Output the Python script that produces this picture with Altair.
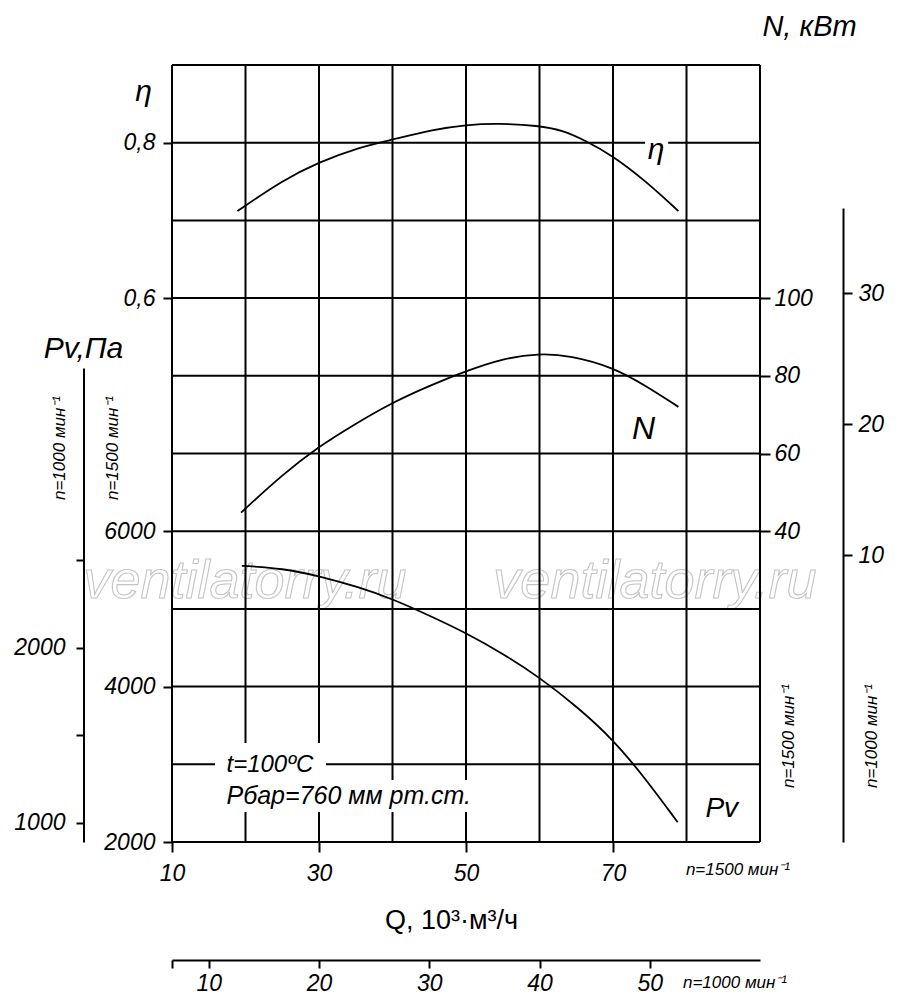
import altair as alt
import pandas as pd

# ---------------- values (n = 1500 мин⁻¹) ----------------
q_eta = [18.9, 25.1, 30.0, 35.4, 40.0, 45.6, 50.0, 54.4, 59.9, 63.1, 66.2, 70.0, 74.4, 78.9]
eta = [0.712, 0.752, 0.775, 0.794, 0.804, 0.817, 0.823, 0.825, 0.822, 0.816, 0.803, 0.783, 0.751, 0.712]

q_n = [19.4, 25.1, 30.0, 34.3, 40.0, 45.6, 50.0, 54.9, 59.9, 64.2, 70.0, 74.4, 78.9]
n_kw = [44.8, 54.7, 61.8, 66.9, 73.2, 77.9, 81.2, 84.4, 85.8, 85.2, 82.2, 77.5, 72.0]

q_pv = [19.5, 25.1, 30.0, 35.4, 40.0, 45.6, 50.0, 54.9, 59.9, 65.2, 70.0, 74.4, 78.8]
pv = [5555, 5521, 5424, 5281, 5129, 4888, 4690, 4431, 4127, 3734, 3320, 2819, 2254]

# grid and tick values
q_grid = [10, 20, 30, 40, 50, 60, 70, 80, 90]
pv_grid = [2000, 3000, 4000, 5000, 6000, 7000, 8000, 9000, 10000, 11000, 12000]
q_ticks = [10, 30, 50, 70]
eta_ticks = [0.6, 0.8]
pv_ticks = [2000, 4000, 6000]
n_ticks = [40, 60, 80, 100]
n1000_ticks = [10, 20, 30]
pv1000_ticks = [1000, 1500, 2000, 2500]
q1000_ticks = [20 / 3, 10, 20, 30, 40, 50]

# ---------------- layout ----------------
W, H = 588, 777
FONT = "Liberation Sans"
RQ = 1000 / 1500
RP = RQ ** 2
RN = RQ ** 3

Q_DOM = [10, 90]
PV_DOM = [2000, 12000]
ETA_DOM = [-0.1, 0.9]
N_DOM = [-40, 160]
N1000_TOP = 143
PV1000_TOP = 303


def val_at(dom, px):
    return dom[0] + (H - px) / H * (dom[1] - dom[0])


N1000_DOM = [N_DOM[0] * RN, val_at(N_DOM, N1000_TOP) * RN]
PV1000_DOM = [PV_DOM[0] * RP, val_at(PV_DOM, PV1000_TOP) * RP]
Q1000_DOM = [Q_DOM[0] * RQ, Q_DOM[1] * RQ]

XS = alt.Scale(domain=Q_DOM, nice=False, zero=False)
PVS = alt.Scale(domain=PV_DOM, nice=False, zero=False)
ETAS = alt.Scale(domain=ETA_DOM, nice=False, zero=False)
NS = alt.Scale(domain=N_DOM, nice=False, zero=False)

AX = dict(labelFont=FONT, labelFontSize=23, labelFontStyle="italic", labelColor="black",
          tickColor="black", tickWidth=2, grid=False, labelFlush=False, labelOverlap=False,
          titleFont=FONT, titleColor="black", titleFontWeight="normal", titleAngle=0)

ONE = pd.DataFrame({"k": [0]})


def label(text, q, p, size, align="center", baseline="alphabetic", angle=0, italic=True):
    return alt.Chart(ONE).mark_text(
        font=FONT, fontSize=size, fontStyle="italic" if italic else "normal",
        align=align, baseline=baseline, angle=angle, color="black"
    ).encode(
        x=alt.XDatum(q, scale=XS, axis=None),
        y=alt.YDatum(p, scale=PVS, axis=None),
        text=alt.value(text),
    )


def watermark(q, p):
    return alt.Chart(ONE).mark_text(
        font=FONT, fontSize=54, fontStyle="italic", align="center", baseline="alphabetic",
        fill="white", fillOpacity=0, stroke="#c4c4c4", strokeWidth=1.1
    ).encode(
        x=alt.XDatum(q, scale=XS, axis=None),
        y=alt.YDatum(p, scale=PVS, axis=None),
        text=alt.value("ventilatorry.ru"),
    )


vgrid = alt.Chart(pd.DataFrame({"q": q_grid})).mark_rule(color="black", strokeWidth=2).encode(
    x=alt.X("q:Q", scale=XS, axis=None))
hgrid = alt.Chart(pd.DataFrame({"pv": pv_grid})).mark_rule(color="black", strokeWidth=2).encode(
    y=alt.Y("pv:Q", scale=PVS, axis=None))

# white masks where the drawing interrupts grid lines behind labels
mask = alt.Chart(pd.DataFrame({
    "q0": [15.85, 16.26, 74.35], "q1": [30.95, 52.0, 77.5],
    "p0": [2386, 2386, 10930], "p1": [3274, 2798, 11070]})).mark_rect(color="white").encode(
    x=alt.X("q0:Q", scale=XS, axis=None), x2="q1",
    y=alt.Y("p0:Q", scale=PVS, axis=None), y2="p1")

CURVE = dict(color="black", strokeWidth=1.8, interpolate="basis")

eta_line = alt.Chart(pd.DataFrame({"q": q_eta, "eta": eta})).mark_line(**CURVE).encode(
    x=alt.X("q:Q", scale=XS, axis=None),
    y=alt.Y("eta:Q", scale=ETAS, axis=alt.Axis(
        orient="left", values=eta_ticks, tickSize=9, domain=False, labelPadding=8,
        labelExpr="replace(format(datum.value, '.1f'), '.', ',')",
        title="η", titleFontSize=30, titleFontStyle="italic", titleX=-29, titleY=35,
        titleAlign="center", titleBaseline="alphabetic", **AX)))

pv_line = alt.Chart(pd.DataFrame({"q": q_pv, "pv": pv})).mark_line(**CURVE).encode(
    x=alt.X("q:Q", scale=XS, axis=alt.Axis(
        orient="bottom", values=q_ticks, format="d", tickSize=10, domain=False, labelPadding=10,
        title="Q, 10³·м³/ч", titleFontSize=27, titleFontStyle="normal", titleX=279, titleY=78,
        titleAlign="center", titleBaseline="middle", **AX)),
    y=alt.Y("pv:Q", scale=PVS, axis=alt.Axis(
        orient="left", values=pv_ticks, format="d", tickSize=9, domain=False, labelPadding=8,
        title="Pv,Па", titleFontSize=30, titleFontStyle="italic", titleX=-89, titleY=292,
        titleAlign="center", titleBaseline="alphabetic", **AX)))

n_line = alt.Chart(pd.DataFrame({"q": q_n, "n": n_kw})).mark_line(**CURVE).encode(
    x=alt.X("q:Q", scale=XS, axis=None),
    y=alt.Y("n:Q", scale=NS, axis=alt.Axis(
        orient="right", values=n_ticks, format="d", tickSize=10, domain=False, labelPadding=4,
        title="N, кВт", titleFontSize=29, titleFontStyle="italic", titleX=49, titleY=-30,
        titleAlign="center", titleBaseline="alphabetic", **AX)))

n1000_axis = alt.Chart(pd.DataFrame({"v": n1000_ticks})).mark_point(opacity=0).encode(
    y=alt.Y("v:Q", scale=alt.Scale(domain=N1000_DOM, range=[H, N1000_TOP], nice=False, zero=False),
            axis=alt.Axis(orient="right", offset=83, values=n1000_ticks, format="d", tickSize=9,
                          domain=True, domainColor="black", domainWidth=2, labelPadding=6,
                          title="", **AX)))

pv1000_axis = alt.Chart(pd.DataFrame({"v": pv1000_ticks})).mark_point(opacity=0).encode(
    y=alt.Y("v:Q", scale=alt.Scale(domain=PV1000_DOM, range=[H, PV1000_TOP], nice=False, zero=False),
            axis=alt.Axis(orient="left", offset=88.5, values=pv1000_ticks, tickSize=7.5,
                          labelExpr="datum.value % 1000 == 0 ? format(datum.value, 'd') : ''",
                          domain=True, domainColor="black", domainWidth=2, labelPadding=11,
                          title="", **AX)))

q1000_axis = alt.Chart(pd.DataFrame({"v": q1000_ticks})).mark_point(opacity=0).encode(
    x=alt.X("v:Q", scale=alt.Scale(domain=Q1000_DOM, nice=False, zero=False),
            axis=alt.Axis(orient="bottom", offset=118, values=q1000_ticks, tickSize=8,
                          labelExpr="datum.value < 9 ? '' : format(datum.value, 'd')",
                          domain=True, domainColor="black", domainWidth=2, labelPadding=4,
                          title="", **AX)))

labels = [
    label("η", 75.85, 10795, 30),
    label("N", 74.15, 7187, 32),
    label("Pv", 84.8, 2322, 28),
    label("t=100ºC", 17.41, 2901, 24, align="left"),
    label("Рбар=760 мм рт.ст.", 17.41, 2489, 25, align="left"),
    label("n=1500 мин⁻¹", 87.0, 1640, 17, baseline="middle"),
    label("n=1000 мин⁻¹", 86.6, 190, 17, baseline="middle"),
    label("n=1000 мин⁻¹", -5.24, 7071, 17, baseline="middle", angle=270),
    label("n=1500 мин⁻¹", 1.97, 7071, 17, baseline="middle", angle=270),
    label("n=1500 мин⁻¹", 93.95, 3364, 17, baseline="middle", angle=270),
    label("n=1000 мин⁻¹", 105.2, 3364, 17, baseline="middle", angle=270),
]

chart = alt.layer(
    watermark(19.93, 5140), watermark(75.7, 5140),
    hgrid, vgrid, mask,
    eta_line, pv_line, n_line,
    n1000_axis, pv1000_axis, q1000_axis,
    *labels,
).resolve_scale(x="independent", y="independent").resolve_axis(
    x="independent", y="independent"
).properties(
    width=W, height=H,
    padding={"left": 164, "top": 57, "right": 132, "bottom": 154},
    autosize=alt.AutoSizeParams(type="none"),
    background="white",
).configure_view(strokeWidth=0)

chart.save("out.html", embed_options={"renderer": "svg", "actions": False})
